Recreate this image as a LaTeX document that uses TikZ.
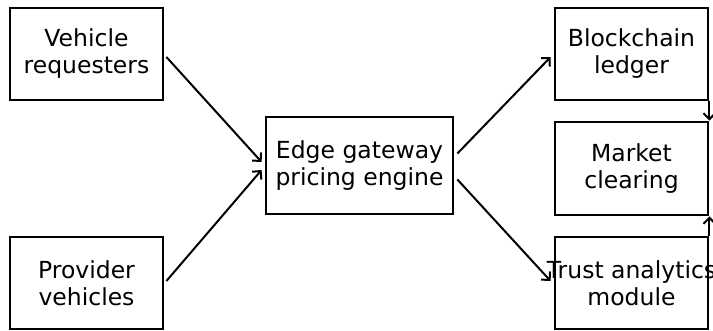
\documentclass[tikz,border=0pt]{standalone}
\usepackage{fontspec}
\setmainfont{DejaVu Sans}
\usetikzlibrary{arrows.meta}
\begin{document}
\begin{tikzpicture}[x=1pt,y=-1pt,
  blk/.style={draw=black,line width=2.8pt,minimum width=153pt,minimum height=92pt,
    align=center,inner sep=0pt,font=\fontsize{23.5}{27}\selectfont},
  link/.style={-{Straight Barb[length=6pt,width=12pt,line width=2pt]},line width=2pt}]
  \useasboundingbox (0,0) rectangle (713,330);
  \node[blk] (vr) at (86.5,54) {Vehicle\\requesters};
  \node[blk] (pv) at (86.5,283) {Provider\\vehicles};
  \node[blk,minimum width=187pt,minimum height=97pt] (eg) at (359.5,165.5) {Edge gateway\\pricing engine};
  \node[blk] (bl) at (631.5,54) {Blockchain\\ledger};
  \node[blk,minimum height=93pt] (mc) at (631.5,168.5) {Market\\clearing};
  \node[blk] (ta) at (631.5,283) {\makebox[0pt]{Trust analytics}\\module};
  % links into and out of the gateway
  \draw[link] ([xshift=2pt,yshift=-3pt]vr.east) -- ([xshift=-3pt,yshift=3.5pt]eg.west);
  \draw[link] ([xshift=2pt,yshift=2pt]pv.east) -- ([xshift=-3pt,yshift=-4.5pt]eg.west);
  \draw[link] ([xshift=3pt,yshift=12pt]eg.east) -- ([xshift=-3pt,yshift=-3pt]bl.west);
  \draw[link] ([xshift=3pt,yshift=-14pt]eg.east) -- ([xshift=-3pt,yshift=2pt]ta.west);
  % links along the right-hand column
  \draw[link] (bl.south east) -- (mc.north east);
  \draw[link] (ta.north east) -- (mc.south east);
\end{tikzpicture}
\end{document}
